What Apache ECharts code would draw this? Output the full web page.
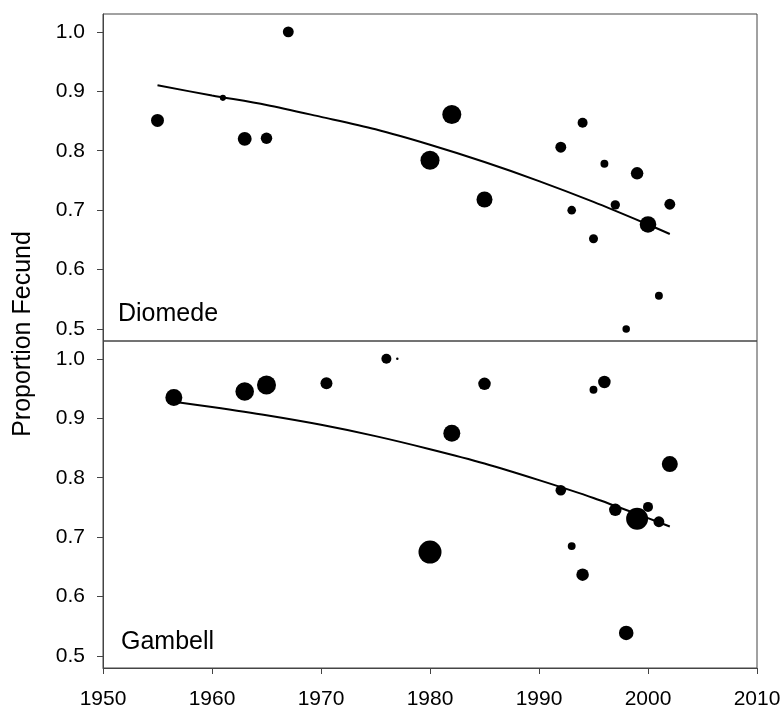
<!DOCTYPE html>
<html>
<head>
<meta charset="utf-8">
<script src="https://cdn.jsdelivr.net/npm/echarts@6/dist/echarts.min.js"></script>
<style>
  html, body { margin: 0; padding: 0; background: #fff; }
  #chart { width: 784px; height: 710px; }
</style>
</head>
<body>
<div id="chart"></div>
<script>
// Diomede: year, proportion fecund, sample size (marker area)
var dioYears = [1955, 1961, 1963, 1965, 1967, 1980, 1982, 1985, 1992, 1993, 1994, 1995, 1996, 1997, 1998, 1999, 2000, 2001, 2002];
var dioProp  = [0.851, 0.889, 0.820, 0.821, 1.000, 0.784, 0.861, 0.718, 0.806, 0.700, 0.847, 0.652, 0.778, 0.709, 0.500, 0.762, 0.676, 0.556, 0.710];
var dioN     = [27, 6, 31, 21, 19, 58, 58, 41, 19, 12, 16, 13, 10, 14, 9, 25, 44, 10, 19];

// Gambell
var gamYears = [1956.5, 1963, 1965, 1970.5, 1976, 1977, 1980, 1982, 1985, 1992, 1993, 1994, 1995, 1996, 1997, 1998, 1999, 2000, 2001, 2002];
var gamProp  = [0.935, 0.945, 0.956, 0.959, 1.000, 1.000, 0.675, 0.875, 0.958, 0.779, 0.685, 0.637, 0.948, 0.961, 0.746, 0.539, 0.731, 0.751, 0.726, 0.823];
var gamN     = [46, 55, 58, 23, 16, 1, 85, 46, 25, 18, 10, 25, 10, 25, 25, 34, 77, 16, 19, 41];

// fitted trend curves
var dioFitYears = [1955, 1960, 1965, 1970, 1975, 1980, 1985, 1990, 1995, 2000, 2002];
var dioFit      = [0.910, 0.893, 0.877, 0.857, 0.836, 0.810, 0.781, 0.749, 0.714, 0.676, 0.660];
var gamFitYears = [1956.5, 1960, 1965, 1970, 1975, 1980, 1985, 1990, 1995, 2000, 2002];
var gamFit      = [0.928, 0.919, 0.905, 0.889, 0.870, 0.848, 0.824, 0.796, 0.766, 0.732, 0.718];

var yTicks = [0.5, 0.6, 0.7, 0.8, 0.9, 1.0];
var panelNames = ['Diomede', 'Gambell'];

function zip(a, b, c) {
  return a.map(function(v, i) { return c ? [v, b[i], c[i]] : [v, b[i]]; });
}

var font = '"Liberation Sans", Arial, sans-serif';
var lineCol = '#444';

function yAxisFor(idx) {
  return {
    gridIndex: idx,
    type: 'value',
    min: 0.48,
    max: 1.03,
    axisLine: { show: true, lineStyle: { color: lineCol, width: 1 } },
    axisTick: { show: true, inside: false, length: 6, customValues: yTicks, lineStyle: { color: lineCol } },
    axisLabel: {
      customValues: yTicks, margin: 18, color: '#000', fontSize: 21, fontFamily: font,
      formatter: function(v) { return v.toFixed(1); }
    },
    splitLine: { show: false }
  };
}

var chart = echarts.init(document.getElementById('chart'));
chart.setOption({
  animation: false,
  backgroundColor: '#fff',
  title: [
    { text: panelNames[0], left: 118, top: 302, padding: 0, textStyle: { fontSize: 25, fontWeight: 'normal', color: '#000', fontFamily: font } },
    { text: panelNames[1], left: 121, top: 630, padding: 0, textStyle: { fontSize: 25, fontWeight: 'normal', color: '#000', fontFamily: font } }
  ],
  graphic: [{
    type: 'text', x: 23, y: 334, rotation: Math.PI / 2,
    style: { text: 'Proportion Fecund', fill: '#000', fontSize: 25, fontFamily: font, align: 'center', verticalAlign: 'middle' }
  }],
  grid: [
    { left: 103, top: 14, width: 654, height: 327, show: true, borderColor: lineCol, borderWidth: 1 },
    { left: 103, top: 341, width: 654, height: 327, show: true, borderColor: lineCol, borderWidth: 1 }
  ],
  xAxis: [
    { gridIndex: 0, type: 'value', min: 1950, max: 2010, show: false },
    {
      gridIndex: 1, type: 'value', min: 1950, max: 2010, interval: 10,
      axisLine: { show: true, lineStyle: { color: lineCol } },
      axisTick: { show: true, inside: false, length: 6, lineStyle: { color: lineCol } },
      axisLabel: { margin: 21, color: '#000', fontSize: 21, fontFamily: font, formatter: function(v) { return String(v); } },
      splitLine: { show: false }
    }
  ],
  yAxis: [yAxisFor(0), yAxisFor(1)],
  series: [
    {
      type: 'line', xAxisIndex: 0, yAxisIndex: 0, data: zip(dioFitYears, dioFit),
      smooth: 0.3, symbol: 'none', lineStyle: { color: '#000', width: 2 }, z: 3
    },
    {
      type: 'scatter', xAxisIndex: 0, yAxisIndex: 0, data: zip(dioYears, dioProp, dioN),
      symbolSize: function(v) { return 2.5 * Math.sqrt(v[2]); },
      itemStyle: { color: '#000', opacity: 1 }, z: 4
    },
    {
      type: 'line', xAxisIndex: 1, yAxisIndex: 1, data: zip(gamFitYears, gamFit),
      smooth: 0.3, symbol: 'none', lineStyle: { color: '#000', width: 2 }, z: 3
    },
    {
      type: 'scatter', xAxisIndex: 1, yAxisIndex: 1, data: zip(gamYears, gamProp, gamN),
      symbolSize: function(v) { return 2.5 * Math.sqrt(v[2]); },
      itemStyle: { color: '#000', opacity: 1 }, z: 4
    }
  ]
});
</script>
</body>
</html>
